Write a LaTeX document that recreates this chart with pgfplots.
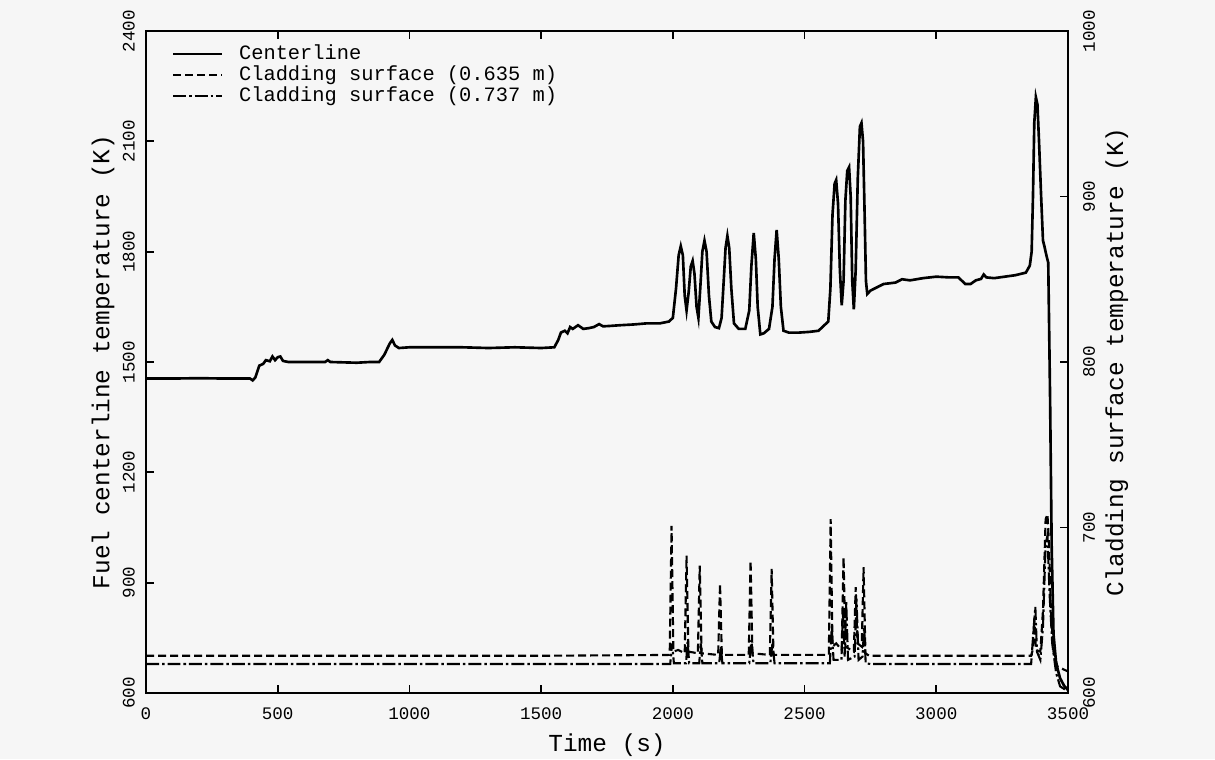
\documentclass[border=0pt]{standalone}
\usepackage{fontspec}
\setmainfont{Liberation Mono}
\usepackage{pgfplots}
\pgfplotsset{compat=1.18}
\definecolor{paper}{RGB}{246,246,246}
\begin{document}
\begin{tikzpicture}
\path[use as bounding box] (-2.92cm,-1.32cm) rectangle (21.38cm,13.86cm);
\fill[paper] (-2.92cm,-1.32cm) rectangle (21.38cm,13.86cm);
\pgfplotsset{
  every axis/.append style={
    scale only axis, width=18.44cm, height=13.24cm,
    xmin=0, xmax=3500,
    tick align=inside, major tick length=0.16cm,
    axis line style={line width=1.1pt},
    every tick/.style={line width=1pt, black},
    /pgf/number format/assume math mode=true,
    /pgf/number format/1000 sep={},
    tick label style={font=\fontsize{10}{12}\selectfont},
  },
  dashstyle/.style={line width=1.2pt, dash pattern=on 0.16cm off 0.08cm},
  dashdotstyle/.style={line width=1.2pt, dash pattern=on 0.26cm off 0.06cm on 0.05cm off 0.06cm},
}
\begin{axis}[
  at={(0,0)}, anchor=south west,
  ymin=600, ymax=2400,
  xtick={0,500,...,3500}, ytick={600,900,...,2400},
  xtick pos=both, xticklabel pos=lower, ytick pos=left,
  yticklabel style={rotate=90, anchor=south},
  yticklabel shift=0.1cm, xticklabel shift=0.18cm,
  xlabel={Time (s)}, ylabel={Fuel centerline temperature (K)},
  xlabel style={at={(axis description cs:0.5,-0.0785)}, anchor=center, font=\fontsize{13.9}{16}\selectfont},
  ylabel style={at={(axis description cs:-0.0466,0.5)}, anchor=center, font=\fontsize{13.9}{16}\selectfont},
  legend style={at={(axis description cs:0.022,0.987)}, anchor=north west, draw=none, fill=none,
    font=\fontsize{11.6}{13}\selectfont, nodes={inner ysep=1pt}},
  legend cell align=left,
  legend image code/.code={\draw[#1] (0cm,0cm) -- (0.98cm,0cm); \path (1.22cm,0cm);},
]
\addplot[black, line width=1.5pt] coordinates {
(0,1455) (100,1455) (200,1456) (300,1455) (395,1455) (405,1450) (415,1458) (430,1490) (445,1495)
(455,1505) (470,1502) (480,1515) (490,1505) (500,1513) (510,1515) (520,1503) (540,1500) (600,1500)
(680,1500) (690,1505) (700,1500) (800,1498) (850,1500) (885,1500) (905,1520) (925,1550) (935,1560)
(945,1545) (960,1538) (1000,1540) (1100,1540) (1200,1540) (1300,1538) (1400,1540) (1500,1538)
(1550,1540) (1565,1560) (1575,1580) (1590,1585) (1600,1578) (1610,1595) (1620,1590) (1640,1600)
(1660,1590) (1680,1592) (1700,1595) (1720,1603) (1735,1597) (1760,1598) (1800,1600) (1850,1602)
(1900,1605) (1950,1605) (1985,1610) (2000,1620) (2012,1700) (2022,1790) (2030,1815) (2038,1790)
(2045,1680) (2052,1640) (2060,1690) (2068,1760) (2075,1775) (2082,1740) (2090,1650) (2097,1620)
(2104,1700) (2112,1800) (2120,1830) (2128,1800) (2137,1680) (2146,1610) (2160,1595) (2175,1592)
(2185,1620) (2193,1720) (2200,1810) (2207,1843) (2214,1810) (2222,1700) (2232,1605) (2250,1590)
(2275,1590) (2290,1640) (2298,1760) (2307,1851) (2315,1780) (2322,1650) (2332,1575) (2345,1578)
(2365,1590) (2378,1650) (2386,1780) (2394,1859) (2402,1780) (2410,1650) (2420,1585) (2440,1580)
(2480,1580) (2520,1582) (2553,1585) (2575,1600) (2590,1610) (2598,1700) (2606,1900) (2614,1985)
(2620,1995) (2627,1930) (2634,1750) (2641,1654) (2648,1720) (2655,1940) (2662,2020) (2669,2030)
(2675,1950) (2681,1720) (2687,1643) (2694,1750) (2702,2000) (2710,2140) (2716,2150) (2722,2100)
(2728,1900) (2733,1720) (2738,1685) (2750,1694) (2780,1705) (2800,1712) (2845,1716) (2870,1725)
(2900,1722) (2950,1728) (3000,1732) (3050,1730) (3084,1730) (3110,1712) (3130,1712) (3150,1722)
(3170,1726) (3180,1738) (3190,1730) (3220,1728) (3260,1732) (3300,1736) (3340,1743) (3355,1762)
(3362,1800) (3367,1950) (3372,2150) (3378,2220) (3384,2200) (3390,2100) (3398,1950) (3405,1830)
(3410,1816) (3418,1790) (3425,1770) (3432,1400) (3438,1000) (3445,760) (3455,680) (3470,640)
(3485,620) (3500,608)
};
\addlegendentry{Centerline}
\addlegendimage{black, dashstyle}
\addlegendentry{Cladding surface (0.635 m)}
\addlegendimage{black, dashdotstyle}
\addlegendentry{Cladding surface (0.737 m)}
\end{axis}
\begin{axis}[
  at={(0,0)}, anchor=south west,
  ymin=600, ymax=1000, ytick={600,700,...,1000},
  hide x axis, axis y line*=right,
  yticklabel style={rotate=90, anchor=north},
  yticklabel shift=0.18cm,
  ylabel={Cladding surface temperature (K)},
  ylabel style={at={(axis description cs:1.053,0.5)}, anchor=center, font=\fontsize{13.9}{16}\selectfont},
]
\addplot[black, dashstyle] coordinates {
(0,622.5) (500,622.5) (1000,622.5) (1500,622.5) (1988,623) (1995,701) (2002,625) (2020,626)
(2045,624) (2052,683) (2059,625) (2095,624) (2102,677) (2109,624) (2172,623) (2179,666) (2186,623)
(2288,623) (2295,680) (2302,624) (2368,623) (2375,675) (2382,623) (2592,623) (2599,705) (2606,628)
(2620,630) (2641,626) (2648,682) (2655,628) (2687,625) (2694,664) (2701,630) (2717,628) (2724,676)
(2731,624) (2745,622.5) (3000,622.5) (3360,622.5) (3366,626) (3372,645) (3378,626) (3395,625)
(3405,650) (3415,705) (3422,708) (3428,690) (3435,650) (3445,625) (3460,616) (3500,613)
};
\addplot[black, dashdotstyle] coordinates {
(0,617.5) (500,617.5) (1000,617.5) (1500,617.5) (1990,617.5) (1997,630) (2004,618) (2050,618)
(2056,631) (2062,618) (2100,618) (2106,630) (2112,618) (2176,618) (2182,628) (2188,618) (2290,618)
(2298,632) (2306,618) (2370,618) (2378,630) (2386,618) (2596,618) (2603,640) (2610,620) (2640,620)
(2646,650) (2652,622) (2658,655) (2665,620) (2690,622) (2697,657) (2705,620) (2720,622) (2726,640)
(2732,618) (2750,617.5) (3000,617.5) (3360,617.5) (3370,640) (3376,652) (3382,625) (3395,620)
(3405,640) (3415,690) (3422,695) (3430,660) (3440,630) (3455,612) (3470,604) (3500,601)
};
\end{axis}
\end{tikzpicture}
\end{document}
